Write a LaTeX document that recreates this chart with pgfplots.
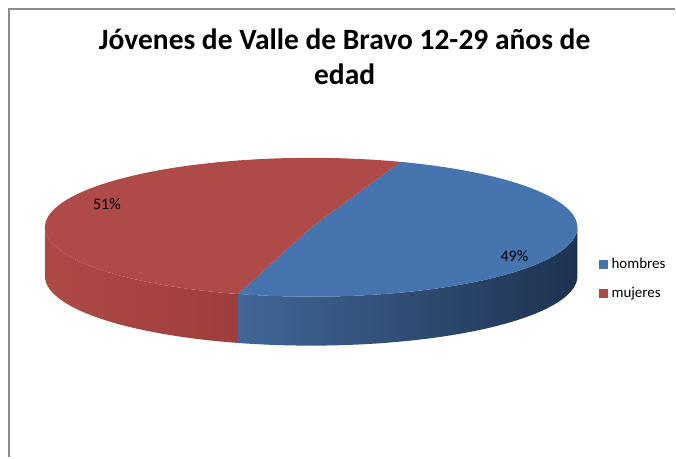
\documentclass[border=0pt]{standalone}
\usepackage{pgfplots}
\pgfplotsset{compat=1.18}
\usepackage{pgfplotstable}
\usepackage{fontspec}
\setmainfont{Carlito}
\definecolor{hblue}{HTML}{4674AE}
\definecolor{hred}{HTML}{AE4A47}
\definecolor{sbA}{HTML}{416798}
\definecolor{sbB}{HTML}{27405F}
\definecolor{sbC}{HTML}{1E3250}
\definecolor{srA}{HTML}{AD4A46}
\definecolor{srB}{HTML}{9E3E3C}
\definecolor{frame}{HTML}{8C8C8C}

\pgfplotstableread{
label value
hombres 49
mujeres 51
}\piedata
\pgfplotstablegetelem{0}{value}\of\piedata\let\hv\pgfplotsretval
\pgfplotstablegetelem{1}{value}\of\piedata\let\mv\pgfplotsretval
\pgfmathsetmacro\tA{254}
\pgfmathsetmacro\tAp{\tA+1.2}
\pgfmathsetmacro\fr{\hv/(\hv+\mv)}
\pgfmathsetmacro\tB{\tA+360*\fr}
\pgfmathsetmacro\tC{\tA+360}

\begin{document}
\begin{tikzpicture}[x=1pt,y=1pt]
\begin{axis}[
  width=676pt, height=458pt, scale only axis,
  xmin=0, xmax=676, ymin=0, ymax=458,
  hide axis, clip=false,
  declare function={
    cx=311.5; cy=230.5; ra=266.5; rb=69.5; dd=49;
    tt(\s,\p,\q)=(\s<=1)*(\p+\s*(\q-\p)) + (\s>1)*(\q-(\s-1)*(\q-\p));
  },
  legend style={at={(axis cs:596,179)}, anchor=west, draw=none, fill=none,
    font=\fontsize{15}{17}\selectfont, row sep=13pt,
    legend cell align=left,
    nodes={inner xsep=4pt}},
  legend image code/.code={\fill[#1] (0pt,-4.5pt) rectangle (9pt,4.5pt);},
]
\path (axis cs:0,0) rectangle (axis cs:676,458);
% sides
\addplot[forget plot, draw=none, left color=srA, right color=srB,
  domain=0:2, samples=201]
  ({cx+ra*cos(tt(x,180,\tAp))}, {cy+rb*sin(tt(x,180,\tAp))-(x>1)*dd}) -- cycle;
\addplot[forget plot, draw=none, left color=sbA, middle color=sbB, right color=sbC,
  domain=0:2, samples=201]
  ({cx+ra*cos(tt(x,\tA,360))}, {cy+rb*sin(tt(x,\tA,360))-(x>1)*dd}) -- cycle;
% tops
\addplot[draw=none, fill=hblue, domain=\tA:\tB, samples=120]
  ({cx+ra*cos(x)}, {cy+rb*sin(x)}) -- (axis cs:311.5,230.5) -- cycle;
\addlegendentry{hombres}
\addplot[draw=none, fill=hred, domain=\tB:\tC, samples=120]
  ({cx+ra*cos(x)}, {cy+rb*sin(x)}) -- (axis cs:311.5,230.5) -- cycle;
\addlegendentry{mujeres}
% labels
\node[font=\fontsize{16}{18}\selectfont] at (axis cs:107,254) {51\%};
\node[font=\fontsize{16}{18}\selectfont] at (axis cs:515,202) {49\%};
% title
\node[font=\bfseries\fontsize{29.5}{35}\selectfont, align=center, anchor=north]
  at (axis cs:345,433) {Jóvenes de Valle de Bravo 12-29 años de\\edad};
% frame
\draw[frame, line width=1.5pt] (axis cs:9,0) -- (axis cs:9,449) -- (axis cs:676,449);
\end{axis}
\end{tikzpicture}
\end{document}
